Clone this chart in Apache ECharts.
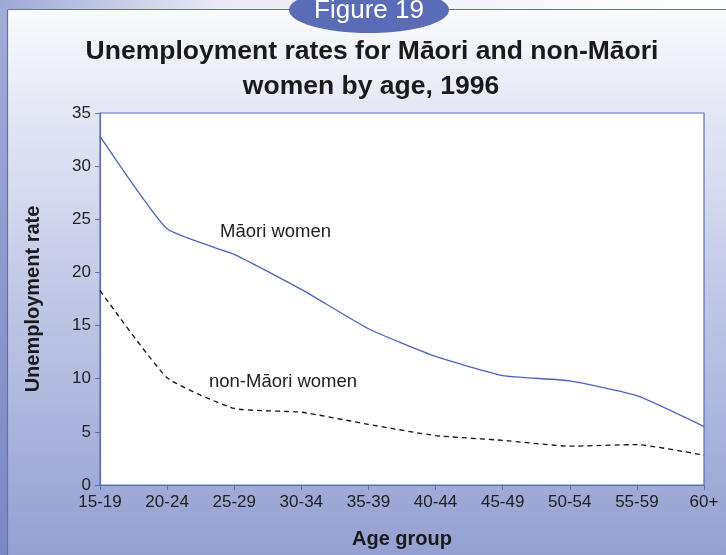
<!DOCTYPE html>
<html>
<head>
<meta charset="utf-8">
<script src="https://cdn.jsdelivr.net/npm/echarts@6/dist/echarts.min.js"></script>
<style>
html,body{margin:0;padding:0;background:#fff;}
#chart{width:726px;height:555px;}
</style>
</head>
<body>
<div id="chart"></div>
<script>
// ---- data ----
const ageGroups = ['15-19','20-24','25-29','30-34','35-39','40-44','45-49','50-54','55-59','60+'];
const maoriWomen = [32.8, 24.1, 21.7, 18.4, 14.7, 12.1, 10.3, 9.8, 8.4, 5.5];
const nonMaoriWomen = [18.3, 10.1, 7.2, 6.85, 5.7, 4.65, 4.2, 3.65, 3.8, 2.8];
const yTicks = [0, 5, 10, 15, 20, 25, 30, 35];

const chart = echarts.init(document.getElementById('chart'), null, {renderer: 'canvas'});
const FONT = 'Liberation Sans, Arial, Helvetica, sans-serif';

const option = {
  animation: false,
  backgroundColor: {
    type: 'linear', x: 0, y: 0, x2: 0, y2: 1,
    colorStops: [
      {offset: 0, color: '#fbfcfe'},
      {offset: 0.2, color: '#e4e7f4'},
      {offset: 0.55, color: '#bfc6e5'},
      {offset: 1, color: '#94a0d2'}
    ]
  },
  graphic: [
    // left decorative strip
    {type: 'rect', z: -10, shape: {x: 0, y: 0, width: 7, height: 555},
     style: {fill: {type: 'linear', x: 0, y: 0, x2: 0, y2: 1,
       colorStops: [{offset: 0, color: '#a3abd8'}, {offset: 1, color: '#7b87c3'}]}}},
    // strip above panel
    {type: 'rect', z: -10, shape: {x: 0, y: 0, width: 726, height: 9},
     style: {fill: {type: 'linear', x: 0, y: 0, x2: 1, y2: 0,
       colorStops: [{offset: 0, color: '#9fa8d6'}, {offset: 0.3, color: '#e8eaf5'}, {offset: 1, color: '#ffffff'}]}}},
    // panel border lines
    {type: 'line', z: 1, shape: {x1: 7.5, y1: 9.5, x2: 726, y2: 9.5}, style: {stroke: '#5f6fb8', lineWidth: 1.2}},
    {type: 'line', z: 1, shape: {x1: 7.5, y1: 9.5, x2: 7.5, y2: 555}, style: {stroke: '#5f6fb8', lineWidth: 1.2}},
    // Figure tab
    {type: 'ellipse', z: 2, shape: {cx: 369, cy: 10, rx: 80, ry: 23}, style: {fill: '#5a6cb5'}},
    {type: 'text', z: 3, style: {text: 'Figure 19', x: 369, y: 11, textAlign: 'center', textVerticalAlign: 'middle',
      fill: '#ffffff', font: 'normal 26px ' + FONT}},
    // Title
    {type: 'text', z: 3, style: {text: 'Unemployment rates for Māori and non-Māori', x: 372, y: 52,
      textAlign: 'center', textVerticalAlign: 'middle', fill: '#1a1a1a', font: 'bold 26.5px ' + FONT}},
    {type: 'text', z: 3, style: {text: 'women by age, 1996', x: 371, y: 87,
      textAlign: 'center', textVerticalAlign: 'middle', fill: '#1a1a1a', font: 'bold 26.5px ' + FONT}},
    // series labels
    {type: 'text', z: 5, style: {text: 'Māori women', x: 220, y: 232, textAlign: 'left', textVerticalAlign: 'middle',
      fill: '#222', font: 'normal 18.5px ' + FONT}},
    {type: 'text', z: 5, style: {text: 'non-Māori women', x: 209, y: 382, textAlign: 'left', textVerticalAlign: 'middle',
      fill: '#222', font: 'normal 18.5px ' + FONT}}
  ],
  grid: {
    left: 100, right: 22, top: 113, bottom: 70,
    show: true, backgroundColor: '#ffffff', borderColor: '#5a6fbf', borderWidth: 1.2
  },
  xAxis: {
    type: 'category',
    data: ageGroups,
    boundaryGap: false,
    name: 'Age group',
    nameLocation: 'middle',
    nameGap: 44,
    nameTextStyle: {fontFamily: FONT, fontWeight: 'bold', fontSize: 20, color: '#1a1a1a'},
    axisLine: {lineStyle: {color: '#5a6fbf', width: 1.2}},
    axisTick: {show: true, length: 5, interval: 0, lineStyle: {color: '#5a6fbf'}},
    axisLabel: {interval: 0, margin: 9, fontFamily: FONT, fontSize: 17, color: '#222'},
    splitLine: {show: false}
  },
  yAxis: {
    type: 'value',
    min: 0, max: 35, interval: 5,
    name: 'Unemployment rate',
    nameLocation: 'middle',
    nameGap: 57,
    nameRotate: 90,
    nameTextStyle: {fontFamily: FONT, fontWeight: 'bold', fontSize: 20, color: '#1a1a1a'},
    axisLine: {show: true, lineStyle: {color: '#5a6fbf', width: 1.2}},
    axisTick: {show: true, length: 5, lineStyle: {color: '#5a6fbf'}},
    axisLabel: {margin: 9, fontFamily: FONT, fontSize: 17, color: '#222',
      formatter: function (v) { return yTicks.indexOf(v) >= 0 ? String(v) : ''; }},
    splitLine: {show: false}
  },
  series: [
    {
      name: 'Māori women', type: 'line', data: maoriWomen, smooth: 0.15,
      symbol: 'none', lineStyle: {color: '#4a63bd', width: 1.3}, z: 3
    },
    {
      name: 'non-Māori women', type: 'line', data: nonMaoriWomen, smooth: 0.15,
      symbol: 'none', lineStyle: {color: '#111', width: 1.3, type: [5, 4]}, z: 3
    }
  ]
};
chart.setOption(option);
</script>
</body>
</html>
